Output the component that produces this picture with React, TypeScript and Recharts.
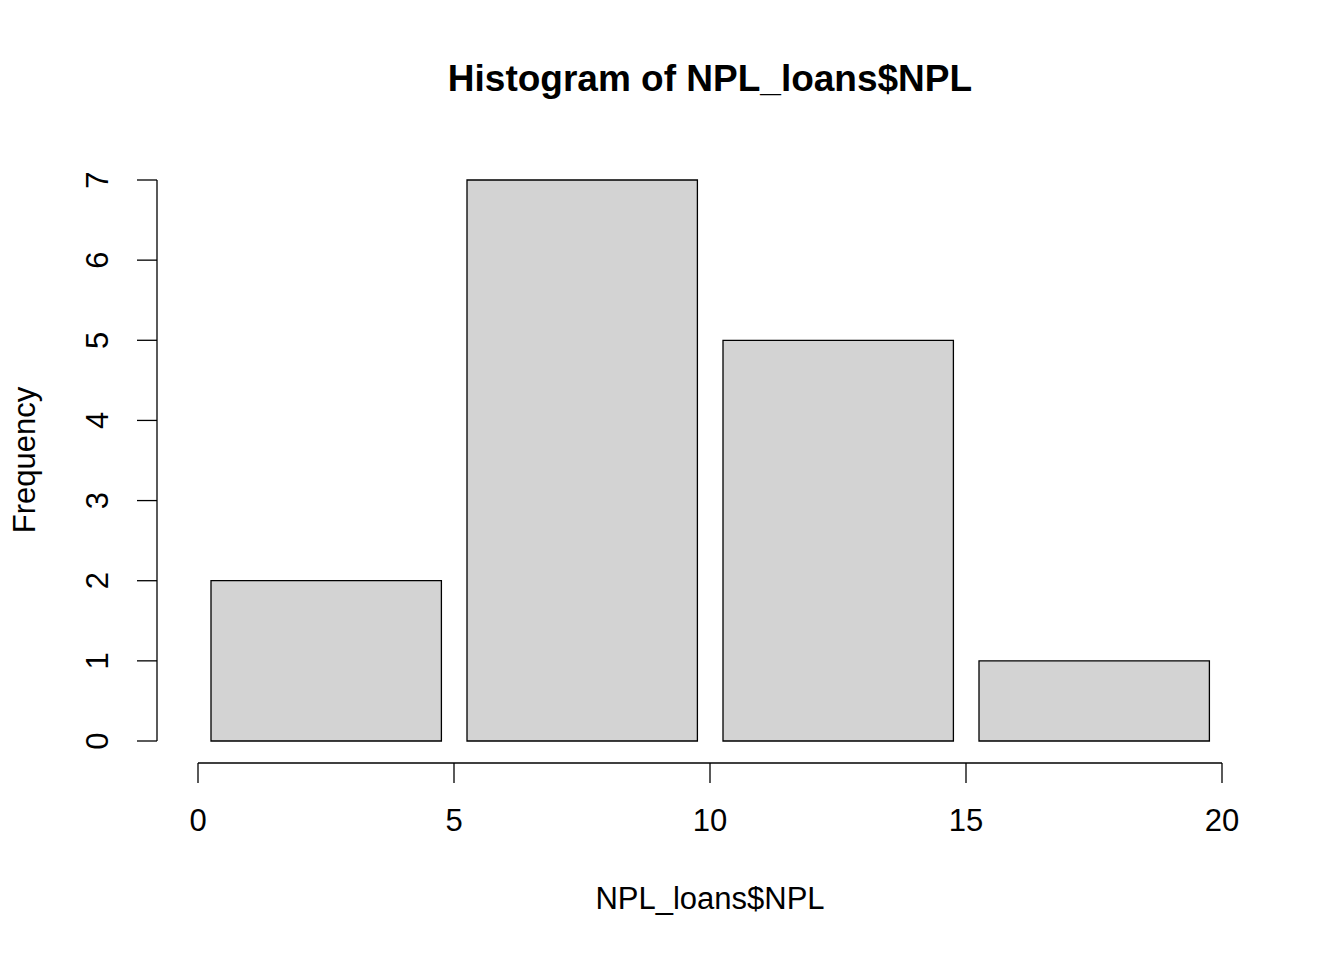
import { ComposedChart, Bar, XAxis, YAxis } from "recharts";

const binMids = [2.5, 7.5, 12.5, 17.5];
const counts = [2, 7, 5, 1];
const xTicks = [0, 5, 10, 15, 20];
const yTicks = [0, 1, 2, 3, 4, 5, 6, 7];

const data = binMids.map((mid, i) => ({ mid, count: counts[i] }));
const font = "'Liberation Sans', Arial, sans-serif";

const YTick = ({ x, y, payload }: any) => (
  <text x={x - 68} y={y} transform={`rotate(-90, ${x - 68}, ${y})`} textAnchor="middle"
    fontSize={31} fontFamily={font} fill="#000">{payload.value}</text>
);

const XTick = ({ x, y, payload }: any) => (
  <text x={x} y={y + 68} textAnchor="middle" fontSize={31} fontFamily={font} fill="#000">
    {payload.value}
  </text>
);

export default function App() {
  return (
    <div style={{ position: "absolute", left: 0, top: 0, width: 1344, height: 960, background: "#fff", fontFamily: font }}>
      <style>{`.recharts-yAxis{transform:translateX(-41px)}.recharts-xAxis{transform:translateY(22px)}`}</style>
      <div style={{ position: "absolute", top: 58, left: 0, width: 1420, textAlign: "center", fontSize: 37, fontWeight: "bold" }}>
        Histogram of NPL_loans$NPL
      </div>
      <div style={{ position: "absolute", top: 881, left: 198, width: 1024, textAlign: "center", fontSize: 31 }}>
        NPL_loans$NPL
      </div>
      <div style={{ position: "absolute", left: 25, top: 460, transform: "translate(-50%, -50%) rotate(-90deg)", fontSize: 31, whiteSpace: "nowrap" }}>
        Frequency
      </div>
      <ComposedChart width={1344} height={960} data={data}
        margin={{ top: 180, right: 122, bottom: 159, left: 138 }}>
        <XAxis dataKey="mid" type="number" domain={[0, 20]} ticks={xTicks} interval={0} height={60}
          stroke="#000" strokeWidth={1.3} tickSize={20} tick={<XTick />} />
        <YAxis domain={[0, 7]} ticks={yTicks} width={60} stroke="#000" strokeWidth={1.3}
          tickSize={20} tick={<YTick />} />
        <Bar dataKey="count" barSize={256} fill="#d3d3d3" stroke="#000" strokeWidth={1.3}
          isAnimationActive={false} />
      </ComposedChart>
    </div>
  );
}
